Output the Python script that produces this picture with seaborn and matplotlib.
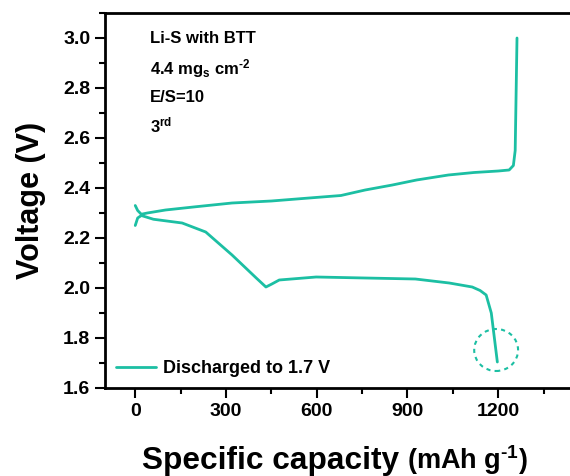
import numpy as np
import pandas as pd
import seaborn as sns
import matplotlib.pyplot as plt
from matplotlib.patches import Ellipse
from matplotlib.ticker import MultipleLocator

# charge curve (upper branch)
charge_cap = [0, 8, 20, 40, 100, 200, 320, 450, 575, 680, 760, 850, 930,
              1035, 1120, 1200, 1236, 1250, 1256, 1258, 1260, 1262]
charge_v = [2.33, 2.31, 2.295, 2.30, 2.312, 2.325, 2.34, 2.348, 2.36, 2.37,
            2.392, 2.412, 2.432, 2.452, 2.462, 2.468, 2.472, 2.49, 2.55, 2.7, 2.85, 3.0]

# discharge curve (lower branch)
dis_cap = [0, 8, 20, 60, 155, 233, 320, 400, 432, 450, 476, 598, 760, 926,
           1038, 1114, 1140, 1160, 1177, 1197]
dis_v = [2.25, 2.28, 2.29, 2.275, 2.26, 2.224, 2.132, 2.04, 2.004, 2.015,
         2.032, 2.044, 2.04, 2.036, 2.02, 2.004, 1.99, 1.972, 1.90, 1.704]

teal = "#1CBFA3"

sns.set_style("ticks")
plt.rcParams["font.family"] = ["Liberation Sans", "DejaVu Sans"]
plt.rcParams["font.weight"] = "bold"
plt.rcParams["mathtext.fontset"] = "custom"
plt.rcParams["mathtext.bf"] = "Liberation Sans:bold"
plt.rcParams["mathtext.rm"] = "Liberation Sans:bold"
plt.rcParams["mathtext.default"] = "bf"
for k in ["text.color", "axes.labelcolor", "xtick.color", "ytick.color", "axes.edgecolor"]:
    plt.rcParams[k] = "black"

charge = pd.DataFrame({"cap": charge_cap, "v": charge_v})
dis = pd.DataFrame({"cap": dis_cap, "v": dis_v})

fig = plt.figure(figsize=(5.7, 4.76), dpi=100)
ax = fig.add_axes([105 / 570, 88 / 476, 484 / 570, 375 / 476])

sns.lineplot(data=dis, x="cap", y="v", sort=False, color=teal, lw=2,
             ax=ax, label="Discharged to 1.7 V")
sns.lineplot(data=charge, x="cap", y="v", sort=False, color=teal, lw=2, ax=ax)

# dashed circle around the cut-off point
ax.add_patch(Ellipse((1193, 1.752), 145, 0.168, fill=False, ec=teal,
                     ls=(0, (2, 2)), lw=1.5))

ax.set_xlim(-100, 1500)
ax.set_ylim(1.6, 3.1)
ax.xaxis.set_minor_locator(MultipleLocator(150))
ax.yaxis.set_minor_locator(MultipleLocator(0.1))
ax.set_xticks([0, 300, 600, 900, 1200])
ax.set_yticks([1.6, 1.8, 2.0, 2.2, 2.4, 2.6, 2.8, 3.0])
ax.set_yticklabels(["1.6", "1.8", "2.0", "2.2", "2.4", "2.6", "2.8", "3.0"])
ax.tick_params(which="major", length=7, width=1.5, labelsize=14, direction="out")
ax.tick_params(which="minor", length=4, width=1.5, direction="out")
for s in ax.spines.values():
    s.set_linewidth(2)
    s.set_visible(True)

ax.set_xlabel("")
ax.set_ylabel("Voltage (V)", fontsize=22, fontweight="bold", labelpad=12)
fig.text(142 / 570, 1 - 469 / 476, "Specific capacity", fontsize=22.8,
         fontweight="bold", ha="left", va="baseline")
fig.text(407 / 570, 1 - 469 / 476, r"(mAh g$^{\text{-1}}$)", fontsize=19.5,
         fontweight="bold", ha="left", va="baseline")

notes = ["Li-S with BTT", r"4.4 mg$_{s}$ cm$^{\text{-2}}$", "E/S=10", r"3$^{rd}$"]
ys = [0.933, 0.853, 0.776, 0.701]
for t, y in zip(notes, ys):
    ax.text(0.093, y, t, transform=ax.transAxes, fontsize=12,
            fontweight="bold", va="center", ha="left")

ax.legend(loc="lower left", frameon=False, fontsize=13, handlelength=2.2,
          borderaxespad=0.2, handletextpad=0.4)

fig.savefig("out.png", dpi=100)
